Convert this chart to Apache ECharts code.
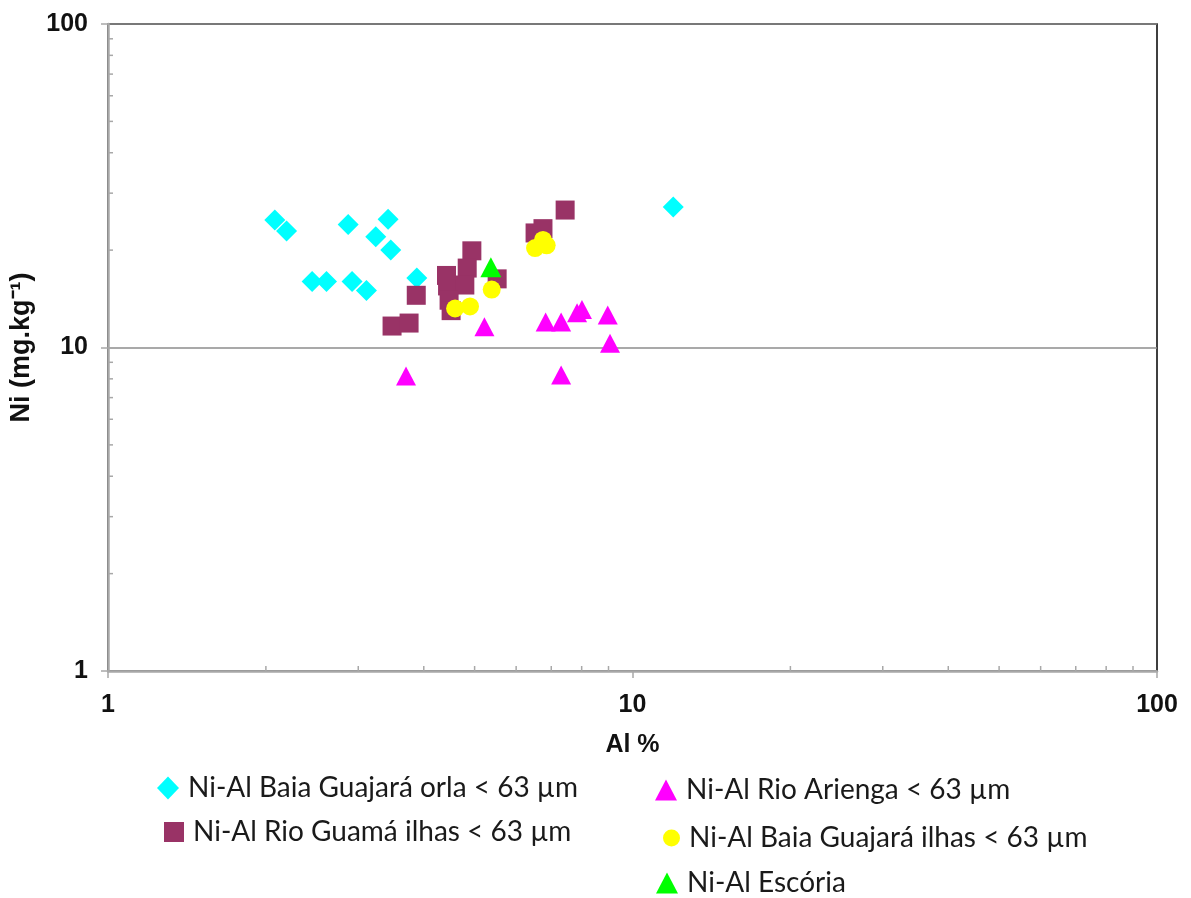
<!DOCTYPE html>
<html>
<head>
<meta charset="utf-8">
<script src="https://cdn.jsdelivr.net/npm/echarts@6/dist/echarts.min.js"></script>
<style>
  html, body { margin: 0; padding: 0; background: #fff; }
  #chart { width: 1191px; height: 898px; }
</style>
</head>
<body>
<div id="chart"></div>
<script>
// Ni vs Al, log-log scatter. Each point: [Al %, Ni mg/kg]
const orlaGuajara = [
  [2.08, 24.8], [2.19, 22.9], [2.87, 24.0], [3.42, 24.9], [3.24, 22.0], [3.46, 20.0],
  [2.45, 16.0], [2.61, 16.0], [2.92, 16.0], [3.11, 15.0], [3.88, 16.4], [11.96, 27.2]
];
const ilhasGuama = [
  [3.48, 11.65], [3.75, 11.9], [3.87, 14.5], [4.94, 19.9], [4.84, 17.6], [4.42, 16.7],
  [4.44, 15.5], [4.79, 15.6], [4.47, 14.0], [4.51, 13.0], [5.52, 16.3], [7.44, 26.6],
  [6.52, 22.6], [6.75, 23.3]
];
const rioArienga = [
  [3.70, 8.17], [5.22, 11.6], [6.83, 12.0], [7.31, 12.0], [7.84, 12.8], [8.01, 13.1],
  [8.97, 12.6], [9.06, 10.3], [7.31, 8.22]
];
const ilhasGuajara = [
  [4.59, 13.2], [4.90, 13.4], [5.39, 15.1], [6.52, 20.3], [6.75, 21.5], [6.86, 20.7]
];
const escoria = [
  [5.37, 17.7]
];

const seriesNames = [
  'Ni-Al Baia Guajará orla < 63 µm',
  'Ni-Al Rio Guamá ilhas < 63 µm',
  'Ni-Al Rio Arienga < 63 µm',
  'Ni-Al Baia Guajará ilhas < 63 µm',
  'Ni-Al Escória'
];

// minor tick values inside each decade
const minorTicks = [2, 3, 4, 5, 6, 7, 8, 9, 20, 30, 40, 50, 60, 70, 80, 90];

const axisGray = '#a8a8a8';
const labelFont = { fontFamily: 'Liberation Sans', fontWeight: 'bold', fontSize: 25, color: '#111' };
const legendFont = { fontFamily: 'Lato', fontSize: 28, lineHeight: 30, color: '#1a1a1a', padding: [0, 0, 0, 4] };

function tickSeries(axisDir) {
  return {
    type: 'custom',
    silent: true,
    clip: false,
    z: 5,
    data: minorTicks.map(v => axisDir === 'x' ? [v, 1] : [1, v]),
    renderItem: function (params, api) {
      const p = api.coord([api.value(0), api.value(1)]);
      const shape = axisDir === 'x'
        ? { x1: p[0], y1: p[1], x2: p[0], y2: p[1] - 5 }
        : { x1: p[0], y1: p[1], x2: p[0] + 5, y2: p[1] };
      return { type: 'line', shape: shape, style: { stroke: axisGray, lineWidth: 1.5 } };
    }
  };
}

function legendAt(name, left, top, w, h) {
  return {
    data: [name], left: left, top: top, padding: 0,
    itemWidth: w, itemHeight: h, textStyle: legendFont, selectedMode: false
  };
}

const solid = color => ({ color: color, opacity: 1 });

const chart = echarts.init(document.getElementById('chart'));
chart.setOption({
  backgroundColor: '#fff',
  animation: false,
  grid: {
    left: 108, right: 34, top: 24, bottom: 227,
    show: true, borderColor: '#000', borderWidth: 1.5
  },
  xAxis: {
    type: 'log', logBase: 10, min: 1, max: 100,
    name: 'Al %', nameLocation: 'middle', nameGap: 62,
    nameTextStyle: labelFont,
    axisLine: { show: true, lineStyle: { color: axisGray, width: 2.5 } },
    axisTick: { show: true, length: 7, lineStyle: { color: axisGray, width: 1.5 } },
    axisLabel: Object.assign({ margin: 22 }, labelFont),
    splitLine: { show: false }
  },
  yAxis: {
    type: 'log', logBase: 10, min: 1, max: 100,
    name: 'Ni (mg.kg⁻¹)', nameLocation: 'middle', nameGap: 62,
    nameTextStyle: Object.assign({}, labelFont, { fontSize: 27 }),
    axisLine: { show: true, lineStyle: { color: axisGray, width: 2.5 } },
    axisTick: { show: true, length: 7, lineStyle: { color: axisGray, width: 1.5 } },
    axisLabel: Object.assign({ margin: 20 }, labelFont),
    splitLine: { show: true, lineStyle: { color: '#8c8c8c', width: 1.5 } }
  },
  legend: [
    legendAt(seriesNames[0], 157, 773, 22, 23),
    legendAt(seriesNames[1], 164, 817, 20, 20),
    legendAt(seriesNames[2], 655, 775, 22, 21),
    legendAt(seriesNames[3], 663, 823, 17, 20),
    legendAt(seriesNames[4], 656, 868, 22, 21)
  ],
  series: [
    { name: seriesNames[0], type: 'scatter', data: orlaGuajara, symbol: 'diamond', symbolSize: 21,
      itemStyle: solid('#00ffff'), z: 2 },
    { name: seriesNames[1], type: 'scatter', data: ilhasGuama, symbol: 'rect', symbolSize: 19,
      itemStyle: solid('#993366'), z: 2 },
    { name: seriesNames[2], type: 'scatter', data: rioArienga, symbol: 'triangle', symbolSize: [20, 19],
      itemStyle: solid('#ff00ff'), z: 2 },
    { name: seriesNames[3], type: 'scatter', data: ilhasGuajara, symbol: 'circle', symbolSize: 18,
      itemStyle: solid('#ffff00'), z: 2 },
    { name: seriesNames[4], type: 'scatter', data: escoria, symbol: 'triangle', symbolSize: [21, 20],
      itemStyle: solid('#00ff00'), z: 2 },
    tickSeries('x'),
    tickSeries('y')
  ]
});
</script>
</body>
</html>
